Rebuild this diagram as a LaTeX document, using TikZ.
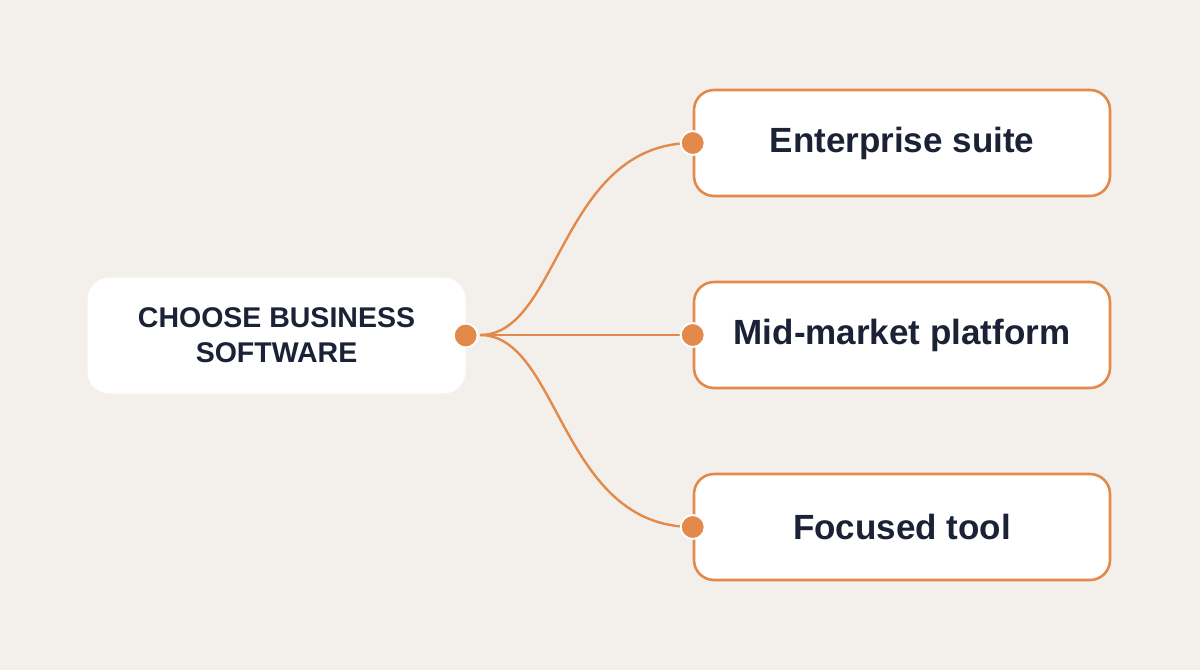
\documentclass[tikz,border=0pt]{standalone}
\usepackage{fontspec}
\setmainfont{Liberation Sans}
\definecolor{bg}{HTML}{F3F0EC}
\definecolor{org}{HTML}{E3894A}
\definecolor{ink}{HTML}{1B2236}
\begin{document}
\begin{tikzpicture}[x=1pt,y=-1pt,
  opt/.style={draw=org,line width=2.6pt,fill=white,rounded corners=20pt,minimum width=416pt,minimum height=106pt,font=\fontsize{35}{38}\selectfont\bfseries,text=ink},
  dot/.style={circle,fill=org,draw=white,line width=2pt,minimum size=24pt,inner sep=0pt},
  link/.style={draw=org,line width=2.4pt}]
\fill[bg] (0,0) rectangle (1200,670);
\useasboundingbox (0,0) rectangle (1200,670);
\node[fill=white,rounded corners=22pt,minimum width=378pt,minimum height=116pt,text=ink,align=center,font=\fontsize{28.5}{35}\selectfont\bfseries] (root) at (276.5,335.5) {CHOOSE BUSINESS\\SOFTWARE};
\node[opt] (a) at (902,143) {Enterprise suite};
\node[opt] (b) at (902,335) {Mid-market platform};
\node[opt] (c) at (902,527) {Focused tool};
\coordinate (s) at (480,335);
\draw[link] (s) .. controls (560,335) and (560,143) .. (a.west);
\draw[link] (s) -- (b.west);
\draw[link] (s) .. controls (560,335) and (560,527) .. (c.west);
\node[dot] (d0) at (root.east) {};
\node[dot] (d1) at (a.west) {};
\node[dot] (d2) at (b.west) {};
\node[dot] (d3) at (c.west) {};
\end{tikzpicture}
\end{document}
